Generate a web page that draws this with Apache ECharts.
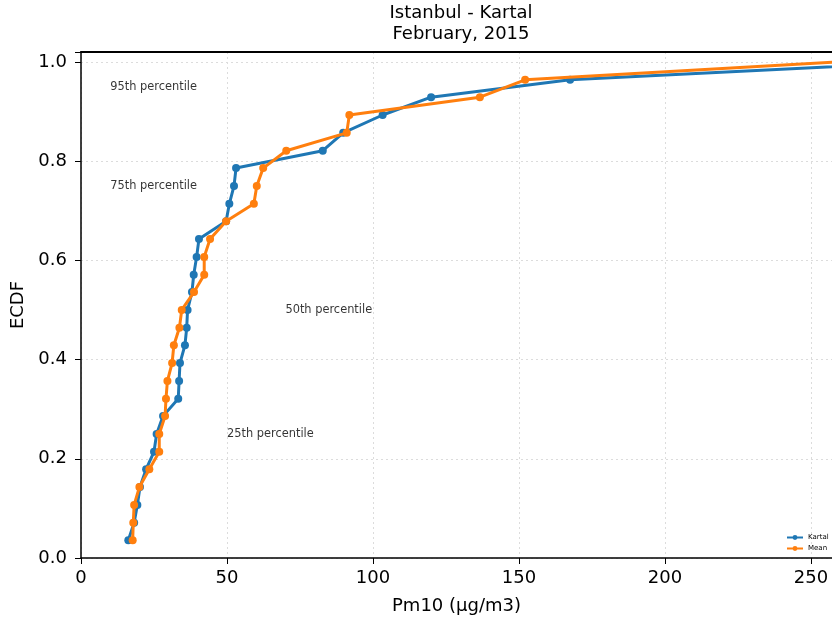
<!DOCTYPE html>
<html><head><meta charset="utf-8">
<script src="https://cdn.jsdelivr.net/npm/echarts@6/dist/echarts.min.js"></script>
<style>html,body{margin:0;padding:0;background:#fff}#c{width:832px;height:622px}</style>
</head><body><div id="c"></div>
<script>
const ecdf = [0.036,0.071,0.107,0.143,0.179,0.214,0.25,0.286,0.321,0.357,0.393,0.429,0.464,0.5,0.536,0.571,0.607,0.643,0.679,0.714,0.75,0.786,0.821,0.857,0.893,0.929,0.964,1.0];
const kartal = [16.2,18.2,19.3,20.2,22.3,25.0,25.9,28.1,33.3,33.6,33.9,35.6,36.2,36.5,38.0,38.6,39.6,40.4,49.7,50.8,52.4,53.1,82.8,89.8,103.3,119.9,167.5,290];
const mean = [17.7,17.9,18.2,20.0,23.4,26.8,26.8,28.8,29.1,29.6,31.2,31.8,33.7,34.5,38.7,42.2,42.2,44.2,49.7,59.2,60.2,62.4,70.3,91.0,91.9,136.6,152.1,259];
const annotations = [["95th percentile",10,0.95],["75th percentile",10,0.75],["50th percentile",70,0.5],["25th percentile",50,0.25]];
const xTicks = [0,50,100,150,200,250];
const yTicks = [0.0,0.2,0.4,0.6,0.8,1.0];

const font = 'DejaVu Sans';
const chart = echarts.init(document.getElementById('c'));
const pairs = arr => arr.map((v,i)=>[v, ecdf[i]]);
const grid = {lineStyle:{color:'#dcdcdc',type:[2,3],width:1}};
chart.setOption({
  animation:false,
  textStyle:{fontFamily:font},
  title:{text:'Istanbul - Kartal\nFebruary, 2015', left:456, top:-2, textAlign:'center',
    textStyle:{fontFamily:font,fontSize:18,fontWeight:'normal',color:'#000',lineHeight:21}},
  grid:{left:81,right:0,top:52,bottom:64,show:false},
  legend:{orient:'vertical',left:781,top:529,itemWidth:16,itemHeight:6,itemGap:4,
    textStyle:{fontFamily:font,fontSize:7,color:'#000'},data:['Kartal','Mean']},
  xAxis:[{type:'value',min:0,max:257.2,interval:50,
    name:'Pm10 (µg/m3)',nameLocation:'middle',nameGap:39,
    nameTextStyle:{fontFamily:font,fontSize:18,color:'#000'},
    axisLine:{show:true,lineStyle:{color:'#000',width:1.5}},
    axisTick:{show:true,length:6,lineStyle:{color:'#000'}},
    axisLabel:{fontFamily:font,fontSize:18,color:'#000',margin:11,showMaxLabel:false,
      formatter:v=> xTicks.includes(v)? String(v):''},
    splitLine:Object.assign({show:true,showMaxLine:false},grid)},
   {type:'value',position:'top',min:0,max:257.2,
    axisLine:{show:true,lineStyle:{color:'#000',width:2}},
    axisTick:{show:false},axisLabel:{show:false},splitLine:{show:false}}],
  yAxis:{type:'value',min:0,max:1.02,interval:0.2,
    name:'ECDF',nameLocation:'middle',nameGap:51,
    nameTextStyle:{fontFamily:font,fontSize:18,color:'#000'},
    axisLine:{show:true,lineStyle:{color:'#000',width:1.5}},
    axisTick:{show:true,length:6,lineStyle:{color:'#000'}},
    axisLabel:{fontFamily:font,fontSize:18,color:'#000',margin:14,
      formatter:v=>{const t=yTicks.find(x=>Math.abs(x-v)<1e-6);return t===undefined?'':t.toFixed(1);}},
    splitLine:Object.assign({show:true,showMaxLine:false},grid)},
  series:[
    {name:'Kartal',type:'line',data:pairs(kartal),color:'#1f77b4',symbol:'circle',symbolSize:8,
      showAllSymbol:true,lineStyle:{width:3},clip:true,z:3},
    {name:'Mean',type:'line',data:pairs(mean),color:'#ff7f0e',symbol:'circle',symbolSize:8,
      showAllSymbol:true,lineStyle:{width:3},clip:true,z:4},
    {name:'notes',type:'scatter',symbolSize:0,data:annotations.map(a=>({value:[a[1],a[2]],name:a[0]})),
      label:{show:true,position:'right',distance:0,formatter:p=>p.name,fontFamily:font,fontSize:11.4,color:'#000'},
      silent:true,tooltip:{show:false}}
  ]
});
</script></body></html>
